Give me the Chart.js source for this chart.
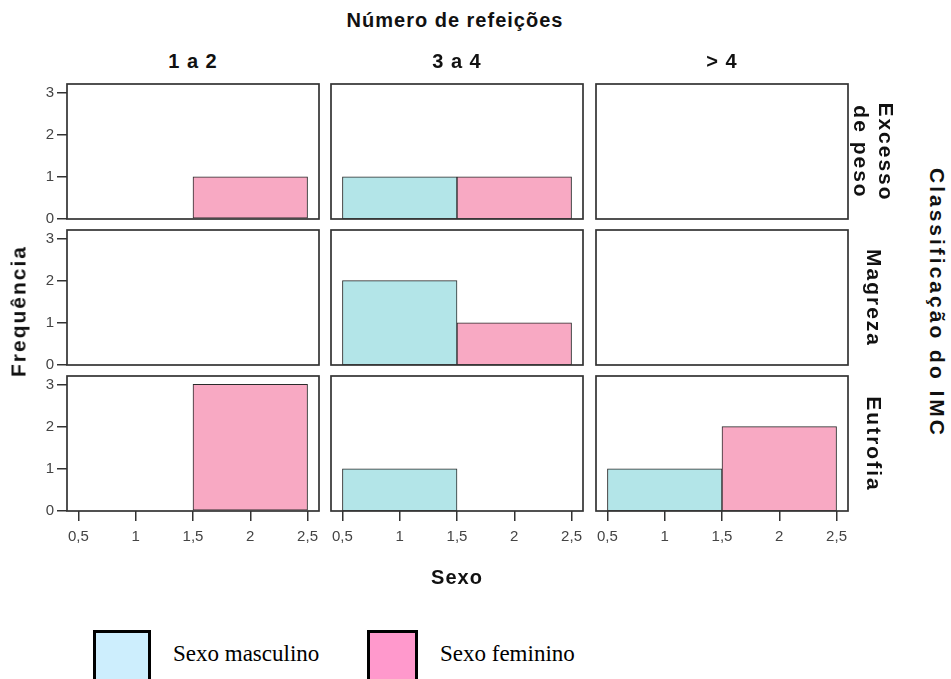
<!DOCTYPE html>
<html>
<head>
<meta charset="utf-8">
<script src="https://cdn.jsdelivr.net/npm/chart.js@4.4.0/dist/chart.umd.min.js"></script>
<style>
  body { margin: 0; background: #fff; width: 951px; height: 679px; position: relative; overflow: hidden;
         font-family: "Liberation Sans", Arial, sans-serif; }
  canvas { position: absolute; }
  .t { position: absolute; font-weight: bold; font-size: 20px; letter-spacing: 1px; color: #111; white-space: pre;
       text-align: center; line-height: 25px; transform: translate(-50%, -50%); }
  .side { font-size: 21px; letter-spacing: 2px; }
  .wide { letter-spacing: 3px; }
  .cw { transform: translate(-50%, -50%) rotate(90deg); }
  .ccw { transform: translate(-50%, -50%) rotate(-90deg); }
  .box { position: absolute; top: 630px; height: 60px; border: 3px solid #000; box-sizing: border-box; }
  .leg { position: absolute; top: 641px; font-family: "Liberation Serif", "Times New Roman", serif; font-size: 23px; color: #000; }
</style>
</head>
<body>
<div id="root"></div>
<script>
// data
const mealGroups = ['1 a 2', '3 a 4', '> 4'];
const bmiGroups = ['Excesso\nde peso', 'Magreza', 'Eutrofia'];
const sexCodes = [1, 2];
// rows = IMC class, columns = meal group
const maleCounts = [[0, 1, 0], [0, 2, 0], [0, 1, 1]];
const femaleCounts = [[1, 1, 0], [0, 1, 0], [3, 0, 2]];
const yTicks = [0, 1, 2, 3];
const xTicks = [0.5, 1, 1.5, 2, 2.5];

const maleColor = '#b3e5e8';
const femaleColor = '#f8a9c3';

// panel layout
const colLeft = [67, 331, 596];
const rowTop = [84, 230, 376];
const panelW = 252, panelH = 135;
const pad = 10, yAxisW = 30, xAxisH = 44;

const root = document.getElementById('root');

function addText(txt, x, y, cls) {
  const d = document.createElement('div');
  d.className = 't ' + (cls || '');
  d.textContent = txt;
  d.style.left = x + 'px';
  d.style.top = y + 'px';
  root.appendChild(d);
}

const framePlugin = {
  id: 'frame',
  afterDatasetsDraw(chart) {
    const { ctx, chartArea: a } = chart;
    ctx.save();
    ctx.strokeStyle = '#333';
    ctx.lineWidth = 1.7;
    ctx.strokeRect(a.left, a.top, a.right - a.left, a.bottom - a.top);
    ctx.restore();
  }
};

const tickFont = { size: 15, family: '"Liberation Sans", Arial, sans-serif' };

for (let r = 0; r < 3; r++) {
  for (let c = 0; c < 3; c++) {
    const showY = c === 0, showX = r === 2;
    const cv = document.createElement('canvas');
    const w = panelW + 2 * pad + (showY ? yAxisW : 0);
    const h = panelH + 2 * pad + (showX ? xAxisH : 0);
    cv.width = w; cv.height = h;
    cv.style.left = (colLeft[c] - pad - (showY ? yAxisW : 0)) + 'px';
    cv.style.top = (rowTop[r] - pad) + 'px';
    root.appendChild(cv);

    const vals = [maleCounts[r][c], femaleCounts[r][c]];
    const chart = new Chart(cv, {
      type: 'bar',
      data: {
        datasets: [{
          data: sexCodes.map((s, i) => ({ x: s, y: vals[i] || null })),
          backgroundColor: [maleColor, femaleColor],
          borderColor: '#2a2a2a',
          borderWidth: 1,
          borderSkipped: false
        }]
      },
      options: {
        responsive: false,
        animation: false,
        devicePixelRatio: 1,
        layout: { padding: pad },
        plugins: { legend: { display: false }, tooltip: { enabled: false } },
        scales: {
          x: {
            type: 'linear', min: 0.4, max: 2.6, offset: false,
            afterBuildTicks: s => { s.ticks = xTicks.map(v => ({ value: v })); },
            afterFit: s => { s.height = showX ? xAxisH : 0; s.paddingLeft = 0; s.paddingRight = 0; },
            border: { display: false },
            grid: { display: showX, offset: false, drawOnChartArea: false, tickLength: 10, color: '#333', lineWidth: 1.5 },
            ticks: {
              display: showX, padding: 7, color: '#444', maxRotation: 0, autoSkip: false,
              font: tickFont,
              callback: v => String(v).replace('.', ',')
            }
          },
          y: {
            min: 0, max: 3.2,
            afterBuildTicks: s => { s.ticks = yTicks.map(v => ({ value: v })); },
            afterFit: s => { s.width = showY ? yAxisW : 0; s.paddingTop = 0; s.paddingBottom = 0; },
            border: { display: false },
            grid: { display: showY, drawOnChartArea: false, tickLength: 10, color: '#333', lineWidth: 1.5 },
            ticks: { display: showY, padding: 3, color: '#444', font: tickFont }
          }
        }
      },
      plugins: [framePlugin]
    });
    // one sex code = one unit on the x scale: make each bar that wide
    const xs = chart.scales.x;
    chart.data.datasets[0].barThickness = xs.getPixelForValue(sexCodes[1]) - xs.getPixelForValue(sexCodes[0]);
    chart.update();
  }
}

// titles
addText('Número de refeições', 455, 20);
mealGroups.forEach((g, c) => addText(g, colLeft[c] + panelW / 2, 61));
bmiGroups.forEach((g, r) => addText(g, 874, rowTop[r] + panelH / 2, 'side cw'));
addText('Classificação do IMC', 937, 303, 'side wide cw');
addText('Frequência', 18, 311, 'side ccw');
addText('Sexo', 457, 577);

// legend
const legItems = [
  { label: 'Sexo masculino', color: '#cdeefd', box: 93, bw: 58, text: 173 },
  { label: 'Sexo feminino', color: '#ff99cc', box: 367, bw: 51, text: 440 }
];
legItems.forEach(it => {
  const b = document.createElement('div');
  b.className = 'box';
  b.style.left = it.box + 'px';
  b.style.width = it.bw + 'px';
  b.style.background = it.color;
  root.appendChild(b);
  const t = document.createElement('div');
  t.className = 'leg';
  t.style.left = it.text + 'px';
  t.textContent = it.label;
  root.appendChild(t);
});
</script>
</body>
</html>
